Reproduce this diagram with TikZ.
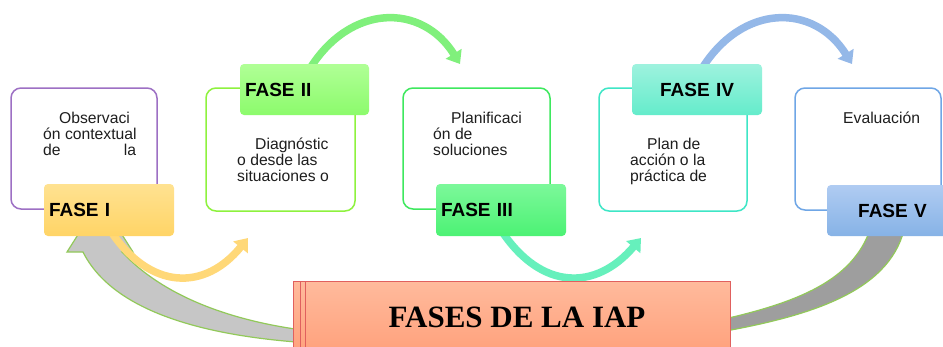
\documentclass[tikz,border=0pt]{standalone}
\usepackage{fontspec}
\setmainfont{Liberation Sans}
\newfontfamily\titlefont{Liberation Serif}
\usetikzlibrary{arrows.meta}
\definecolor{cBone}{HTML}{9D70C4}
\definecolor{cBtwo}{HTML}{8EF23E}
\definecolor{cBthree}{HTML}{3EE85E}
\definecolor{cBfour}{HTML}{3EE6C6}
\definecolor{cBfive}{HTML}{6FA6E6}
\definecolor{grayL}{HTML}{C6C6C6}
\definecolor{grayD}{HTML}{9E9E9E}
\definecolor{grayEdge}{HTML}{92C95A}
\definecolor{arcY}{HTML}{FFD878}
\definecolor{arcG}{HTML}{80F07C}
\definecolor{arcT}{HTML}{66F0BC}
\definecolor{arcB}{HTML}{94B8E8}
\definecolor{titleEdge}{HTML}{E0605E}
\definecolor{txtc}{HTML}{1E1E1E}
\definecolor{tTop}{HTML}{FFBA9C}
\definecolor{tBot}{HTML}{FF9E78}
\begin{document}
\begin{tikzpicture}[x=1pt,y=-1pt,
  obox/.style={draw, line width=1.5pt, rounded corners=10pt, inner sep=0pt, fill=white},
  lab/.style={rounded corners=4pt, inner ysep=0pt, inner xsep=5pt, minimum height=51pt,
    font=\fontsize{19}{22}\selectfont\bfseries, text=black},
  tbox/.style={draw=titleEdge, line width=1.3pt, inner sep=0pt, anchor=north west,
    minimum height=80pt, top color=tTop, bottom color=tBot},
  txt/.style={font=\fontsize{15.7}{16}\selectfont, inner sep=0pt, anchor=base west, text=txtc},
  arcline/.style={line width=7.5pt, -{Triangle[width=18pt,length=12pt]}},
  grayarrow/.style={draw=grayEdge, line width=1.2pt}
]
\useasboundingbox (0,0) rectangle (943,346);
\clip (0,0) rectangle (943,346);
\fill[white] (0,0) rectangle (943,346);

% big gray circular arrow (behind everything)
\filldraw[grayarrow, fill=grayL] (67,252) -- (100,200) -- (133,252) -- (122,252)
  .. controls (165,298) and (235,322) .. (310,331) -- (310,343)
  .. controls (200,336) and (112,310) .. (83,252) -- cycle;
\filldraw[grayarrow, fill=grayD] (870,230) -- (904,230)
  .. controls (888,292) and (810,316) .. (720,332) -- (720,320)
  .. controls (800,302) and (852,280) .. (870,230) -- cycle;

% outline boxes
\node[obox, draw=cBone,   minimum width=146pt, minimum height=121pt] (b1) at (84,148.5) {};
\node[obox, draw=cBtwo,   minimum width=149pt, minimum height=123pt] (b2) at (280.5,149.5) {};
\node[obox, draw=cBthree, minimum width=147pt, minimum height=121pt] (b3) at (476.5,148.5) {};
\node[obox, draw=cBfour,  minimum width=148pt, minimum height=123pt] (b4) at (673,149.5) {};
\node[obox, draw=cBfive,  minimum width=146pt, minimum height=122pt] (b5) at (868,149) {};

% body texts
\node[txt] (t1a) at (59,123) {Observaci};
\node[txt] (t1b) at (43,139) {ón contextual};
\node[txt] (t1c) at (43,155) {\makebox[93pt][s]{de\hfill la}};
\node[txt] (t2a) at (255,149) {Diagnóstic};
\node[txt] (t2b) at (237,165) {o desde las};
\node[txt] (t2c) at (237,181) {situaciones o};
\node[txt] (t3a) at (451,123) {Planificaci};
\node[txt] (t3b) at (433,139) {ón de};
\node[txt] (t3c) at (433,155) {soluciones};
\node[txt] (t4a) at (647,149) {Plan de};
\node[txt] (t4b) at (630,165) {acción o la};
\node[txt] (t4c) at (630,181) {práctica de};
\node[txt] (t5a) at (843,123) {Evaluación};

% arc end points
\coordinate (e1) at (248,238);
\coordinate (e2) at (460,64);
\coordinate (e3) at (641,238);
\coordinate (e4) at (852,64);

% label box centres
\path (109,210) coordinate (p1) (304.5,89.5) coordinate (p2) (501,210) coordinate (p3)
      (697,89.5) coordinate (p4) (892.5,210.5) coordinate (p5);

% arcs
\draw[arcline, arcY] (110,230) .. controls (150,291) and (205,291) .. (e1);
\draw[arcline, arcG] (309,70) .. controls (350,3) and (422,3) .. (e2);
\draw[arcline, arcT] (501,230) .. controls (541,291) and (596,291) .. (e3);
\draw[arcline, arcB] (701,70) .. controls (742,3) and (814,3) .. (e4);

\node[lab, text width=120pt, align=left, minimum height=52pt, top color={rgb,255:red,255;green,226;blue,145}, bottom color={rgb,255:red,255;green,212;blue,102}] (l1) at (p1) {FASE I};
\node[lab, text width=119pt, align=left, top color={rgb,255:red,176;green,255;blue,150}, bottom color={rgb,255:red,140;green,251;blue,108}] (l2) at (p2) {FASE II};
\node[lab, text width=120pt, align=left, minimum height=52pt, top color={rgb,255:red,124;green,248;blue,154}, bottom color={rgb,255:red,76;green,242;blue,116}] (l3) at (p3) {FASE III};
\node[lab, text width=120pt, align=center, top color={rgb,255:red,158;green,242;blue,222}, bottom color={rgb,255:red,100;green,236;blue,203}] (l4) at (p4) {FASE IV};
\node[lab, text width=121pt, align=center, top color={rgb,255:red,176;green,204;blue,242}, bottom color={rgb,255:red,134;green,178;blue,230}] (l5) at (p5) {FASE V};

% title box (stacked)
\node[tbox, minimum width=427pt] (tb1) at (293,281) {};
\node[tbox, minimum width=427pt] (tb2) at (300,281) {};
\node[tbox, minimum width=425pt] (tb3) at (305,281) {};
\node[anchor=base, inner sep=0pt, font=\titlefont\fontsize{31}{36}\selectfont\bfseries] (title) at (517,327) {FASES DE LA IAP};
\end{tikzpicture}
\end{document}
